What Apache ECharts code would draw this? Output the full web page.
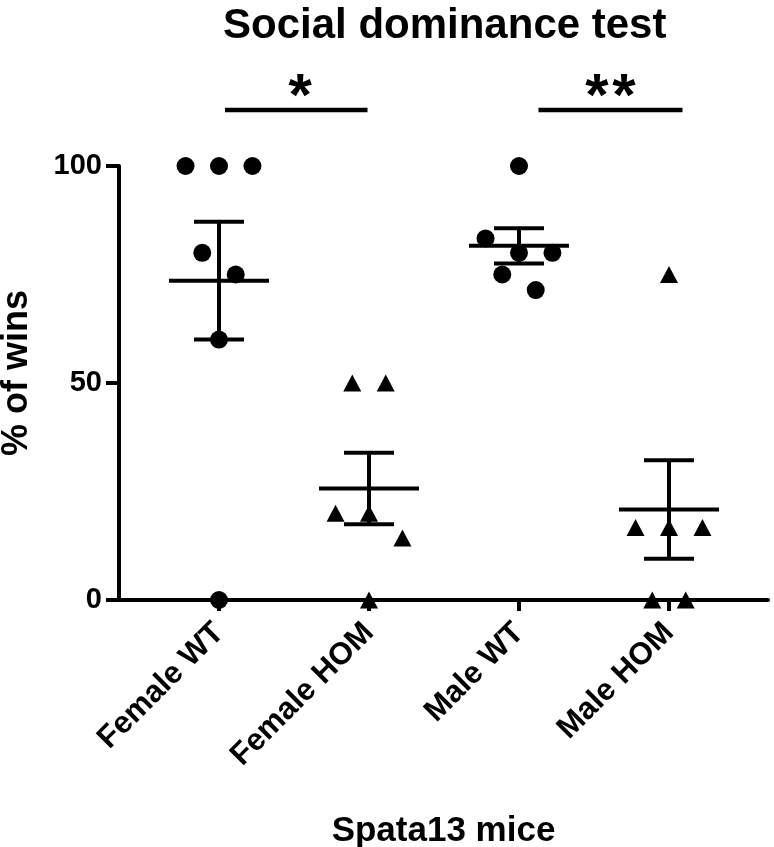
<!DOCTYPE html>
<html><head><meta charset="utf-8">
<script src="https://cdn.jsdelivr.net/npm/echarts@6/dist/echarts.min.js"></script>
<style>html,body{margin:0;padding:0;background:#fff}#c{width:774px;height:847px}</style>
</head><body><div id="c"></div>
<script>
// ---- data ----
const categories = ['Female WT', 'Female HOM', 'Male WT', 'Male HOM'];
const femaleWT  = [100, 100, 100, 80, 75, 60, 0];
const femaleHOM = [50, 50, 20, 20, 14.3, 0];
const maleWT    = [100, 83.3, 80, 80, 75, 71.4];
const maleHOM   = [75, 16.7, 16.7, 16.7, 0, 0];
const yTicks = [0, 50, 100];
const sigLabels = ['*', '**'];
const sigFrom = [1.04, 3.13];
const sigTo = [1.99, 4.09];
const sigLevel = 112.9;

// ---- layout (jitter slots, not data) ----
const femaleWTSlots  = [-1, 0, 1, -0.5, 0.5, 0, 0];
const femaleHOMSlots = [-0.5, 0.5, -1, 0, 1, 0];
const maleWTSlots    = [0, -1, 0, 1, -0.5, 0.5];
const maleHOMSlots   = [0, -1, 0, 1, -0.5, 0.5];
const slotW = 0.223;

const groups = [femaleWT, femaleHOM, maleWT, maleHOM];
const slots = [femaleWTSlots, femaleHOMSlots, maleWTSlots, maleHOMSlots];
const shapes = ['circle', 'triangle', 'circle', 'triangle'];
const FONT = "'Liberation Sans', Arial, Helvetica, sans-serif";

function stats(a) {
  const n = a.length, m = a.reduce((s, v) => s + v, 0) / n;
  const sd = Math.sqrt(a.reduce((s, v) => s + (v - m) * (v - m), 0) / (n - 1));
  return [m, sd / Math.sqrt(n)];
}

const series = [];
// mean & SEM
series.push({
  type: 'custom',
  data: groups.map((g, i) => { const st = stats(g); return [i + 1, st[0], st[1]]; }),
  renderItem: function (params, api) {
    const x = api.value(0), m = api.value(1), s = api.value(2);
    const ls = { stroke: '#000', lineWidth: 4 };
    const a = api.coord([x - 1 / 3, m]), b = api.coord([x + 1 / 3, m]);
    const up = api.coord([x, m + s]), dn = api.coord([x, m - s]);
    const cl = api.coord([x - 1 / 6, m]), cr = api.coord([x + 1 / 6, m]);
    return { type: 'group', children: [
      { type: 'line', shape: { x1: a[0], y1: a[1], x2: b[0], y2: b[1] }, style: ls },
      { type: 'line', shape: { x1: up[0], y1: up[1], x2: dn[0], y2: dn[1] }, style: ls },
      { type: 'line', shape: { x1: cl[0], y1: up[1], x2: cr[0], y2: up[1] }, style: ls },
      { type: 'line', shape: { x1: cl[0], y1: dn[1], x2: cr[0], y2: dn[1] }, style: ls }
    ]};
  },
  z: 2
});
// points
groups.forEach((g, i) => {
  series.push({
    type: 'scatter',
    symbol: shapes[i],
    symbolSize: shapes[i] === 'circle' ? 18 : [18, 17],
    itemStyle: { color: '#000', opacity: 1 },
    data: g.map((v, j) => [i + 1 + slots[i][j] * slotW, v]),
    z: 3,
    silent: true
  });
});
// significance bars
series.push({
  type: 'custom',
  clip: false,
  data: sigLabels.map((l, i) => [sigFrom[i], sigTo[i], sigLevel, i]),
  renderItem: function (params, api) {
    const p1 = api.coord([api.value(0), api.value(2)]);
    const p2 = api.coord([api.value(1), api.value(2)]);
    const label = sigLabels[api.value(3)];
    const cx = (p1[0] + p2[0]) / 2 + (label.length === 1 ? 4 : 0);
    const children = [
      { type: 'line', shape: { x1: p1[0], y1: p1[1], x2: p2[0], y2: p2[1] }, style: { stroke: '#000', lineWidth: 4.5 } }
    ];
    for (let k = 0; k < label.length; k++) {
      children.push({ type: 'text', style: { text: label[k], x: cx + (k - (label.length - 1) / 2) * 27, y: p1[1] - 12,
        align: 'center', verticalAlign: 'middle', font: 'bold 60px ' + FONT, fill: '#000' } });
    }
    return { type: 'group', children: children };
  }
});

const chart = echarts.init(document.getElementById('c'));
chart.setOption({
  animation: false,
  backgroundColor: '#fff',
  title: { text: 'Social dominance test', left: 218, top: 0,
    textStyle: { fontFamily: FONT, fontSize: 42, fontWeight: 'bold', color: '#000' } },
  grid: { left: 119, right: 6, top: 166, bottom: 247, outerBoundsMode: 'none', containLabel: false },
  xAxis: {
    type: 'value', min: 1 / 3, max: 4.66,
    axisLine: { onZero: false, lineStyle: { color: '#000', width: 4 } },
    splitLine: { show: false },
    axisTick: { customValues: [1, 2, 3, 4], length: 11, lineStyle: { color: '#000', width: 4 } },
    axisLabel: { customValues: [1, 2, 3, 4], formatter: v => categories[Math.round(v) - 1],
      rotate: 45, margin: 28, fontFamily: FONT, fontSize: 31, fontWeight: 'bold', color: '#000' },
    name: 'Spata13 mice', nameLocation: 'middle', nameGap: 214,
    nameTextStyle: { fontFamily: FONT, fontSize: 35, fontWeight: 'bold', color: '#000' }
  },
  yAxis: {
    type: 'value', min: 0, max: 100, interval: 50,
    axisLine: { show: true, onZero: false, lineStyle: { color: '#000', width: 4 } },
    splitLine: { show: false },
    axisTick: { show: true, length: 13, lineStyle: { color: '#000', width: 4 } },
    axisLabel: { margin: 17, fontFamily: FONT, fontSize: 29, fontWeight: 'bold', color: '#000',
      formatter: v => yTicks.indexOf(v) >= 0 ? String(v) : '' },
    name: '% of wins', nameLocation: 'middle', nameGap: 84,
    nameTextStyle: { fontFamily: FONT, fontSize: 36, fontWeight: 'bold', color: '#000', padding: [0, 0, 0, 20] }
  },
  series: series
});
</script>
</body></html>
